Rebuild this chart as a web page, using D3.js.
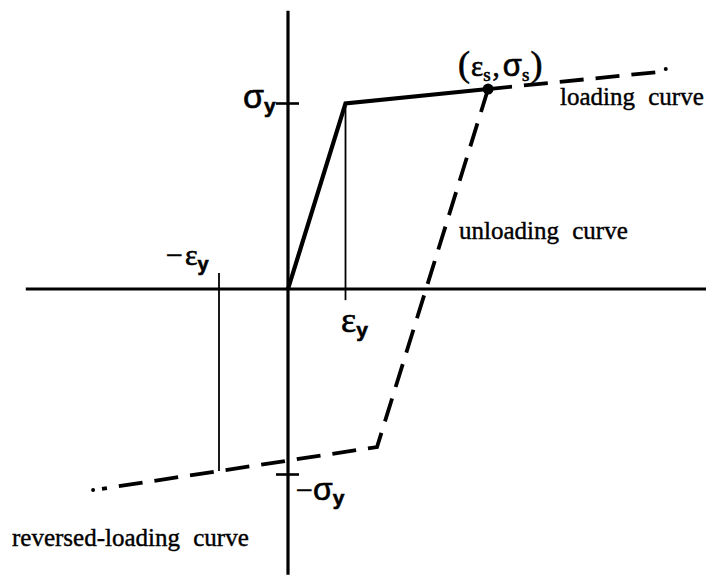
<!DOCTYPE html>
<html>
<head>
<meta charset="utf-8">
<script src="https://cdn.jsdelivr.net/npm/d3@7/dist/d3.min.js"></script>
<style>
  html, body { margin: 0; padding: 0; background: #fff; }
  svg text { fill: #000; }
</style>
</head>
<body>
<svg id="chart" width="706" height="577"></svg>
<script>
// Strain is measured in units of the yield strain ε_y, stress in units of the yield stress σ_y.
const strainExtent = [-4.56, 7.3];     // horizontal axis span
const stressExtent = [-1.54, 1.5];     // vertical axis span

// Elastic branch then hardening branch up to the reversal point (ε_s, σ_s)
const loadingSolid = [[0, 0], [1, 1], [3.48, 1.078]];
// Continuation of the loading curve beyond the reversal point
const loadingDashed = [[3.48, 1.078], [6.45, 1.17]];
const loadingEndDot = [6.57, 1.186];
// Unloading branch and the reversed-loading branch
const unloadingDashed = [[3.48, 1.078], [1.548, -0.852], [-3.235, -1.077]];
const reversedEndDot = [-3.39, -1.084];
const reversalPoint = [3.48, 1.078];

// Guide lines at ±ε_y
const epsYGuide = [[1, 1], [1, -0.06]];
const negEpsYGuide = [[-1.2, 0.086], [-1.2, -0.981]];
// Stress ticks on the vertical axis
const stressTicks = [1, -1];

const svg = d3.select("#chart");

const x = d3.scaleLinear().domain([0, 1]).range([288, 345.5]);
const y = d3.scaleLinear().domain([0, 1]).range([289, 103.5]);
const line = d3.line().x(d => x(d[0])).y(d => y(d[1]));

// Axes
svg.append("line")
  .attr("x1", x(strainExtent[0])).attr("x2", x(strainExtent[1]))
  .attr("y1", y(0)).attr("y2", y(0))
  .attr("stroke", "#000").attr("stroke-width", 3);
svg.append("line")
  .attr("x1", x(0)).attr("x2", x(0))
  .attr("y1", y(stressExtent[1])).attr("y2", y(stressExtent[0]))
  .attr("stroke", "#000").attr("stroke-width", 3.2);

// Stress ticks
svg.selectAll("line.stick").data(stressTicks).join("line")
  .attr("class", "stick")
  .attr("x1", x(0) - 12).attr("x2", x(0) + 11)
  .attr("y1", d => y(d)).attr("y2", d => y(d))
  .attr("stroke", "#000").attr("stroke-width", 2.6);

// Strain guide lines
[epsYGuide, negEpsYGuide].forEach(g => {
  svg.append("path").attr("d", line(g))
    .attr("fill", "none").attr("stroke", "#000").attr("stroke-width", 1.8);
});

// Loading curve (solid)
svg.append("path").attr("d", line(loadingSolid))
  .attr("fill", "none").attr("stroke", "#000")
  .attr("stroke-width", 4.2).attr("stroke-linejoin", "miter");

// Dashed branches
[loadingDashed, unloadingDashed].forEach(p => {
  svg.append("path").attr("d", line(p))
    .attr("fill", "none").attr("stroke", "#000")
    .attr("stroke-width", 3.8)
    .attr("stroke-dasharray", "24 12")
    .attr("stroke-linejoin", "miter");
});

// End dots of the dashed branches
svg.selectAll("circle.end").data([loadingEndDot, reversedEndDot]).join("circle")
  .attr("class", "end")
  .attr("cx", d => x(d[0])).attr("cy", d => y(d[1])).attr("r", 2);

// Reversal point
svg.append("circle")
  .attr("cx", x(reversalPoint[0])).attr("cy", y(reversalPoint[1])).attr("r", 5.5);

// Symbol labels: each part is a glyph run, optionally a subscript
const serif = "'Liberation Serif', serif";
const sans = "'Liberation Sans', sans-serif";

function symbolLabel(xp, yp, parts) {
  const t = svg.append("text")
    .attr("x", xp).attr("y", yp)
    .attr("font-family", serif)
    .attr("stroke", "#000").attr("stroke-width", 0.6);
  let shift = 0;
  parts.forEach(p => {
    const s = t.append("tspan").text(p.text)
      .attr("font-size", p.size)
      .attr("font-weight", p.bold ? "bold" : "normal");
    if (p.family) s.attr("font-family", p.family);
    const target = p.down || 0;
    if (target !== shift) { s.attr("dy", target - shift); shift = target; }
    if (p.dx) s.attr("dx", p.dx);
  });
  return t;
}

symbolLabel(243, 108, [
  {text: "σ", size: 34, family: sans},
  {text: "y", size: 21, down: 5, bold: true, family: sans}
]);
symbolLabel(166, 265, [
  {text: "−", size: 30},
  {text: "ε", size: 30, dx: 2},
  {text: "y", size: 20, down: 6, bold: true, family: sans}
]);
symbolLabel(341, 332, [
  {text: "ε", size: 36},
  {text: "y", size: 21, down: 5, bold: true, family: sans}
]);
symbolLabel(296, 500, [
  {text: "−", size: 30},
  {text: "σ", size: 32, family: sans},
  {text: "y", size: 21, down: 5, bold: true, family: sans}
]);
symbolLabel(458, 76, [
  {text: "(", size: 36},
  {text: "ε", size: 29, dx: 1},
  {text: "s", size: 19, down: 5},
  {text: ",", size: 29, dx: 2},
  {text: "σ", size: 31, family: sans, dx: 3},
  {text: "s", size: 19, down: 5},
  {text: ")", size: 36, dx: 1}
]);

// Branch names
const branchLabels = [
  {text: "loading curve", x: 560, y: 105},
  {text: "unloading curve", x: 459, y: 239},
  {text: "reversed-loading curve", x: 12, y: 546}
];
svg.selectAll("text.branch").data(branchLabels).join("text")
  .attr("class", "branch")
  .attr("x", d => d.x).attr("y", d => d.y)
  .attr("font-family", serif).attr("font-size", 25)
  .attr("word-spacing", 7)
  .attr("stroke", "#000").attr("stroke-width", 0.4)
  .text(d => d.text);
</script>
</body>
</html>
